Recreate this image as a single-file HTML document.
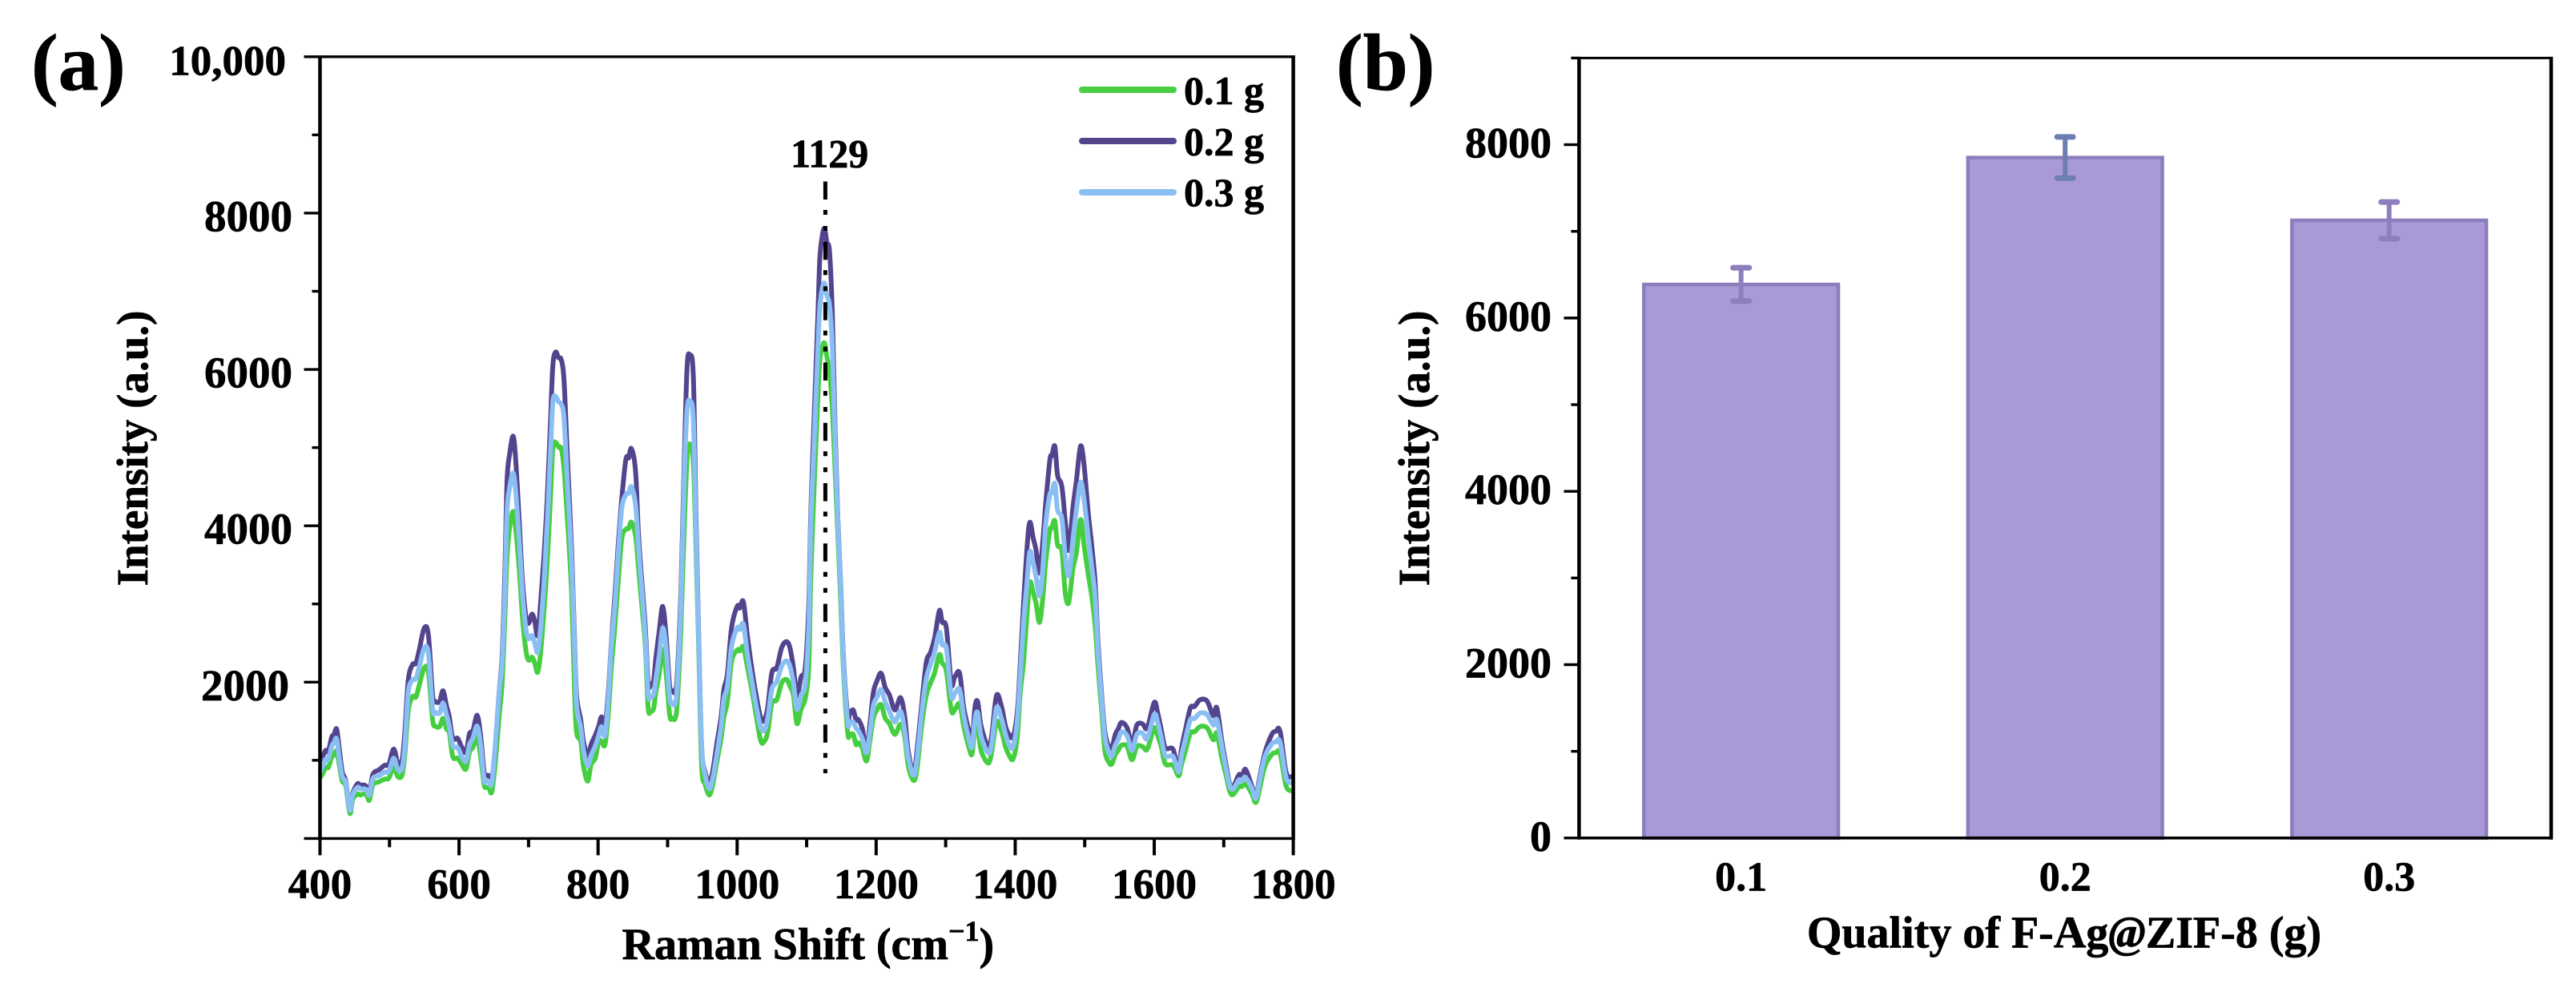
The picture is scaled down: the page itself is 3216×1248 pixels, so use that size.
<!DOCTYPE html>
<html lang="en">
<head>
<meta charset="utf-8">
<title>Raman spectra and peak intensity of F-Ag@ZIF-8</title>
<style>
html,body{margin:0;padding:0;background:#fff;}
svg{display:block;}
text{font-family:"Liberation Serif",serif;font-weight:bold;fill:#000;stroke:#000;stroke-width:0.7px;}
</style>
</head>
<body>
<svg id="figure" xmlns="http://www.w3.org/2000/svg" width="3216" height="1248" viewBox="0 0 3216 1248">
  <rect x="0" y="0" width="3216" height="1248" fill="#fff"/>
  <text x="39" y="112" font-size="101">(a)</text>
  <text x="1668" y="112" font-size="101">(b)</text>

  <g id="panel-a">
    <g id="a-lines"></g>
    <g id="a-axes"></g>
    <line x1="1030.4" y1="226.5" x2="1030.4" y2="965" stroke="#000" stroke-width="5" stroke-dasharray="22.5 13 6 14 6 13.8"/>
    <text x="987" y="208.6" font-size="50">1129</text>
    <g>
      <g>
        <line x1="1351" y1="112" x2="1465" y2="112" stroke="#47CE42" stroke-width="8" stroke-linecap="round"/>
        <text x="1478" y="130" font-size="50" xml:space="preserve">0.1 g</text>
      </g>
      <g>
        <line x1="1351" y1="176" x2="1465" y2="176" stroke="#54448E" stroke-width="8" stroke-linecap="round"/>
        <text x="1478" y="193.5" font-size="50" xml:space="preserve">0.2 g</text>
      </g>
      <g>
        <line x1="1351" y1="240" x2="1465" y2="240" stroke="#8ABFF3" stroke-width="8" stroke-linecap="round"/>
        <text x="1478" y="257" font-size="50" xml:space="preserve">0.3 g</text>
      </g>
    </g>
    <text transform="translate(184 559.5) rotate(-90)" text-anchor="middle" font-size="55">Intensity (a.u.)</text>
    <text x="776.5" y="1197" font-size="56">Raman Shift (cm<tspan font-size="36" dy="-23">−1</tspan><tspan dy="23">)</tspan></text>
  </g>

  <g id="panel-b">
    <g id="b-bars"></g>
    <g id="b-axes"></g>
    <text transform="translate(1784 559.5) rotate(-90)" text-anchor="middle" font-size="55">Intensity (a.u.)</text>
    <text x="2577" y="1182.6" text-anchor="middle" font-size="56">Quality of F-Ag<tspan font-style="italic">@</tspan>ZIF-8 (g)</text>
  </g>
</svg>
<script>
const shifts = [
400,405,408,412,417,420,424,428,432,437,443,447,454,458,462,467,471,476,485,493,499,506,512,518,522,527,533,538,543,550,556,562,566,572,577,582,586,591,598,604,610,615,620,626,631,636,639,643,647,652,658,662,666,669,673,678,682,687,691,696,700,705,709,713,717,722,727,732,735,739,743,747,751,756,762,766,
769,775,779,785,790,796,801,805,810,815,819,824,829,834,840,844,848,854,858,863,868,872,876,880,883,888,893,898,903,907,911,914,919,924,928,932,937,941,945,949,954,960,965,971,977,981,986,992,1000,1004,1009,1015,1021,1027,1034,1039,1044,1050,1057,1064,1071,1076,1081,1086,1092,1098,
1103,1106,1111,1116,1119,1123,1126,1129,1133,1137,1141,1145,1149,1153,1159,1162,1167,1171,1174,1180,1186,1191,1196,1201,1207,1213,1219,1227,1235,1241,1246,1254,1259,1265,1272,1278,1284,1291,1295,1301,1308,1313,1320,1326,1334,1338,1342,1346,1351,1361,1366,1373,1380,1386,1391,1397,1403,
1407,1412,1417,1421,1426,1430,1435,1440,1444,1450,1453,1457,1461,1467,1472,1477,1483,1488,1494,1499,1505,1510,1515,1519,1524,1529,1535,1539,1544,1548,1553,1561,1568,1575,1583,1590,1600,1605,1610,1616,1627,1635,1639,1645,1652,1658,1666,1676,1685,1690,1697,1703,1711,1722,1726,1731,1740,1746,1751,1759,1769,1775,1781,1790,1800
];
const intensity01 = [
772,850,909,909,1046,1066,1117,929,733,674,321,497,568,556,568,556,489,686,725,760,772,909,791,811,1066,1634,1811,1811,1968,2183,2125,1517,1438,1431,1536,1399,1360,1046,1027,948,889,1105,1164,1301,1046,693,654,646,595,948,1595,1987,2850,3595,3987,4183,3909,3399,2850,2419,2281,2320,2242,2125,2340,2889,3556,4457,5006,5065,5006,4987,4732,4065,3124,1909,
1360,1242,929,733,948,1027,1242,1242,1203,1634,2183,2693,3281,3830,3956,3967,4046,3869,3477,2967,2458,1674,1627,1666,1870,2105,2419,2105,1576,1536,1536,1752,2654,3987,4850,5046,4810,3673,2340,929,693,556,693,987,1281,1556,1752,2262,2411,2399,2450,2183,1909,1595,1250,1242,1360,1732,1772,1987,2034,1948,1830,1470,1654,1791,
2193,3344,4546,5592,6114,6297,6334,6167,5957,5487,4703,3866,3030,2141,1357,1331,1331,1200,1226,1158,991,1252,1540,1644,1713,1540,1472,1331,1461,1305,939,740,912,1409,1827,1984,2115,2350,2245,2141,1644,1644,1723,1435,1148,1085,1409,1435,1122,965,1096,1488,1383,1174,1069,1017,1305,
1842,2252,2867,3277,3140,3003,2764,3106,3550,3942,3977,4062,3755,3686,3140,3020,3447,3652,4079,3755,3379,3106,2730,2218,1672,1125,972,954,1074,1125,1193,1176,1006,1176,1176,1142,1415,1313,1176,954,937,801,937,1125,1347,1364,1432,1415,1262,1347,1040,818,562,664,664,698,579,459,613,920,1074,1098,1091,664,613
];
const intensity02 = [
968,1066,1125,1117,1301,1321,1399,1125,850,733,360,576,701,674,686,662,568,819,878,936,948,1144,960,999,1360,2026,2223,2242,2419,2693,2595,1830,1752,1752,1889,1693,1556,1281,1281,1164,1105,1340,1379,1576,1321,850,811,803,733,1164,1909,2340,3438,4575,4928,5144,4771,3987,3320,2850,2752,2870,2771,2595,2968,3595,4379,5438,6065,6222,6151,6124,5869,4850,3673,2575,
1830,1517,1242,1046,1203,1321,1438,1556,1438,1909,2497,3085,3752,4340,4850,4869,4987,4693,3908,3281,2693,1987,1968,2026,2301,2654,2968,2575,1948,1889,1877,2105,3124,4850,6026,6183,5908,4065,2497,1164,850,713,870,1223,1556,1909,2105,2693,2968,2948,3026,2575,2183,1850,1536,1517,1674,2124,2183,2438,2517,2438,2183,1830,2066,2183,
2977,4180,5435,6637,7421,7735,7798,7630,7500,6689,5226,4075,3239,2298,1566,1592,1644,1514,1524,1409,1122,1461,1869,2010,2115,1932,1838,1644,1801,1566,1122,834,1148,1671,2246,2376,2559,2915,2768,2690,1984,2063,2115,1671,1357,1226,1671,1749,1435,1174,1305,1827,1697,1435,1331,1305,1618,
2184,3003,3720,4045,3840,3686,3396,3823,4301,4847,4899,5018,4643,4506,4062,3686,4233,4574,5018,4779,4164,3755,3277,2525,1876,1364,1159,1159,1330,1398,1484,1415,1210,1450,1467,1415,1740,1603,1398,1159,1142,869,1142,1398,1671,1689,1774,1757,1569,1671,1262,954,647,818,767,886,681,528,750,1091,1330,1371,1371,835,801
];
const intensity03 = [
850,948,1015,1015,1184,1223,1274,1007,791,713,360,556,654,635,635,623,556,764,803,850,858,1027,881,897,1184,1870,2026,2046,2203,2438,2360,1654,1615,1603,1732,1576,1438,1184,1164,1046,987,1203,1281,1438,1203,752,733,733,701,1164,1909,2262,3203,4183,4497,4673,4379,3752,3164,2693,2556,2595,2497,2379,2654,3242,4065,5046,5595,5654,5587,5555,5379,4536,3516,2497,
1713,1419,1125,929,1066,1184,1321,1430,1321,1830,2458,2967,3634,4222,4399,4418,4497,4261,3752,3164,2575,1850,1811,1850,2026,2340,2693,2419,1791,1732,1721,1987,2967,4654,5477,5595,5359,3869,2458,1164,811,635,772,1085,1438,1791,1948,2458,2693,2673,2740,2340,2026,1713,1419,1387,1536,1909,2007,2203,2270,2203,1987,1654,1830,1987,
2716,4023,5121,6219,6794,7055,7097,6951,6820,6271,5069,4023,3187,2246,1488,1488,1488,1409,1383,1278,1096,1357,1697,1801,1906,1749,1629,1488,1629,1383,1043,808,1043,1566,2036,2220,2376,2638,2481,2429,1827,1853,1906,1566,1252,1174,1514,1608,1305,1096,1200,1671,1540,1331,1200,1174,1514,
2047,2764,3277,3669,3516,3345,3106,3481,4028,4404,4421,4540,4199,4096,3618,3362,3823,4199,4557,4335,3857,3481,3106,2423,1808,1296,1091,1057,1193,1262,1364,1313,1125,1330,1347,1279,1586,1484,1296,1057,1050,852,1057,1279,1518,1535,1603,1586,1450,1518,1193,903,630,750,733,784,647,510,716,1040,1210,1234,1234,767,716
];
const xTicksA = [400,500,600,700,800,900,1000,1100,1200,1300,1400,1500,1600,1700,1800];
const xLabelsA = ['400','600','800','1000','1200','1400','1600','1800'];
const yTicksA = [0,1000,2000,3000,4000,5000,6000,7000,8000,9000,10000];
const yLabelsA = ['2000','4000','6000','8000','10,000'];

const barCategories = ['0.1','0.2','0.3'];
const barValues = [6387,7851,7127];
const barErrors = [193,238,211];
const yTicksB = [0,1000,2000,3000,4000,5000,6000,7000,8000,9000];
const yLabelsB = ['0','2000','4000','6000','8000'];

const SVG_NS = 'http://www.w3.org/2000/svg';
function make(tag, attrs, parent, content) {
  const el = document.createElementNS(SVG_NS, tag);
  for (const k in attrs) el.setAttribute(k, attrs[k]);
  if (content !== undefined) el.textContent = content;
  parent.appendChild(el);
  return el;
}

/* ---------- panel (a) ---------- */
const A = {left: 399.5, right: 1614.6, top: 70.8, bottom: 1046.4, xMin: 400, xMax: 1800, yMin: 0, yMax: 10000};
function xA(v) { return A.left + (v - A.xMin) * (A.right - A.left) / (A.xMax - A.xMin); }
function yA(v) { return A.bottom - (v - A.yMin) * (A.bottom - A.top) / (A.yMax - A.yMin); }

function smoothPath(values) {
  const px = values.map(function (v, i) { return xA(shifts[i]); });
  const py = values.map(function (v) { return yA(v); });
  let d = 'M' + px[0].toFixed(1) + ' ' + py[0].toFixed(1);
  for (let i = 0; i < px.length - 1; i++) {
    const i0 = Math.max(i - 1, 0);
    const i3 = Math.min(i + 2, px.length - 1);
    const c1x = px[i] + (px[i + 1] - px[i0]) / 6;
    const c1y = py[i] + (py[i + 1] - py[i0]) / 6;
    const c2x = px[i + 1] - (px[i3] - px[i]) / 6;
    const c2y = py[i + 1] - (py[i3] - py[i]) / 6;
    d += 'C' + c1x.toFixed(1) + ' ' + c1y.toFixed(1) + ' ' + c2x.toFixed(1) + ' ' + c2y.toFixed(1) + ' ' + px[i + 1].toFixed(1) + ' ' + py[i + 1].toFixed(1);
  }
  return d;
}

const aLines = document.getElementById('a-lines');
const seriesDefs = [
  {name: 'series-0.1g-line', values: intensity01, color: '#45CE40'},
  {name: 'series-0.2g-line', values: intensity02, color: '#54448E'},
  {name: 'series-0.3g-line', values: intensity03, color: '#8ABFF3'}
];
seriesDefs.forEach(function (s) {
  const el = make('path', {d: smoothPath(s.values), fill: 'none', stroke: s.color, 'stroke-width': 6, 'stroke-linejoin': 'round', 'stroke-linecap': 'butt'}, aLines);
  
  
});

const aAxes = document.getElementById('a-axes');
function axisLine(parent, name, x1, y1, x2, y2, w) {
  const el = make('line', {x1: x1, y1: y1, x2: x2, y2: y2, stroke: '#000', 'stroke-width': w}, parent);
  
  
  return el;
}
axisLine(aAxes, 'panel-a-left-spine', A.left, A.top - 1.5, A.left, A.bottom + 1.5, 4.5);
axisLine(aAxes, 'panel-a-right-spine', A.right, A.top - 1.5, A.right, A.bottom + 1.5, 4.5);
axisLine(aAxes, 'panel-a-top-spine', A.left, A.top, A.right + 2, A.top, 3.4);
axisLine(aAxes, 'panel-a-bottom-spine', A.left, A.bottom, A.right + 2, A.bottom, 3.4);

xTicksA.forEach(function (t, i) {
  const len = i % 2 === 0 ? 21 : 11;
  axisLine(aAxes, 'panel-a-x-tick-' + t, xA(t), A.bottom, xA(t), A.bottom + len, 4);
});
yTicksA.forEach(function (t, i) {
  const len = i % 2 === 0 ? 20 : 10;
  axisLine(aAxes, 'panel-a-y-tick-' + t, A.left - len, yA(t), A.left, yA(t), 3.4);
});
xLabelsA.forEach(function (label) {
  const v = Number(label);
  const el = make('text', {x: xA(v), y: 1121, 'text-anchor': 'middle', 'font-size': 53}, aAxes, label);
  
  
});
yLabelsA.forEach(function (label) {
  const v = Number(label.replace(',', ''));
  const right = v === 10000 ? 357 : (v === 2000 ? 361 : 365);
  const size = v === 10000 ? 53 : 55;
  const el = make('text', {x: right, y: yA(v) + 22.5, 'text-anchor': 'end', 'font-size': size}, aAxes, label);
  
  
});

/* ---------- panel (b) ---------- */
const B = {left: 1971.4, right: 3185, top: 72.4, bottom: 1045.8, yMin: 0, yMax: 9000, barFrac: 0.6};
const bandWidth = (B.right - B.left) / barCategories.length;
function xB(i) { return B.left + bandWidth * (i + 0.5); }
function yB(v) { return B.bottom - (v - B.yMin) * (B.bottom - B.top) / (B.yMax - B.yMin); }

const bBars = document.getElementById('b-bars');
const errorColors = ['#8D7EBE', '#6B7FB2', '#8D7EBE'];
barCategories.forEach(function (cat, i) {
  const w = bandWidth * B.barFrac;
  const rect = make('rect', {x: xB(i) - w / 2, y: yB(barValues[i]), width: w, height: B.bottom - yB(barValues[i]), fill: '#A99AD7', stroke: '#8C7DBD', 'stroke-width': 4.5}, bBars);
  
  

  const hi = yB(barValues[i] + barErrors[i]);
  const lo = yB(barValues[i] - barErrors[i]);
  const stem = make('line', {x1: xB(i), y1: hi, x2: xB(i), y2: lo, stroke: errorColors[i], 'stroke-width': 6}, bBars);
  
  
  const capTop = make('line', {x1: xB(i) - 10, y1: hi, x2: xB(i) + 10, y2: hi, stroke: errorColors[i], 'stroke-width': 7, 'stroke-linecap': 'round'}, bBars);
  
  
  const capBottom = make('line', {x1: xB(i) - 10, y1: lo, x2: xB(i) + 10, y2: lo, stroke: errorColors[i], 'stroke-width': 7, 'stroke-linecap': 'round'}, bBars);
  
  

  const label = make('text', {x: xB(i), y: 1111.6, 'text-anchor': 'middle', 'font-size': 52}, bBars, cat);
  
  
});

const bAxes = document.getElementById('b-axes');
axisLine(bAxes, 'panel-b-left-spine', B.left, B.top - 1.5, B.left, B.bottom + 2, 4.5);
axisLine(bAxes, 'panel-b-right-spine', B.right, B.top - 1.5, B.right, B.bottom + 2, 4.5);
axisLine(bAxes, 'panel-b-top-spine', B.left, B.top, B.right + 2, B.top, 3);
axisLine(bAxes, 'panel-b-bottom-spine', B.left, B.bottom, B.right + 2, B.bottom, 3.6);
yTicksB.forEach(function (t, i) {
  const len = i % 2 === 0 ? 19 : 10;
  axisLine(bAxes, 'panel-b-y-tick-' + t, B.left - len, yB(t), B.left, yB(t), 3.4);
});
yLabelsB.forEach(function (label) {
  const v = Number(label);
  const el = make('text', {x: 1937, y: yB(v) + 16, 'text-anchor': 'end', 'font-size': 54}, bAxes, label);
  
  
});
</script>
</body>
</html>
